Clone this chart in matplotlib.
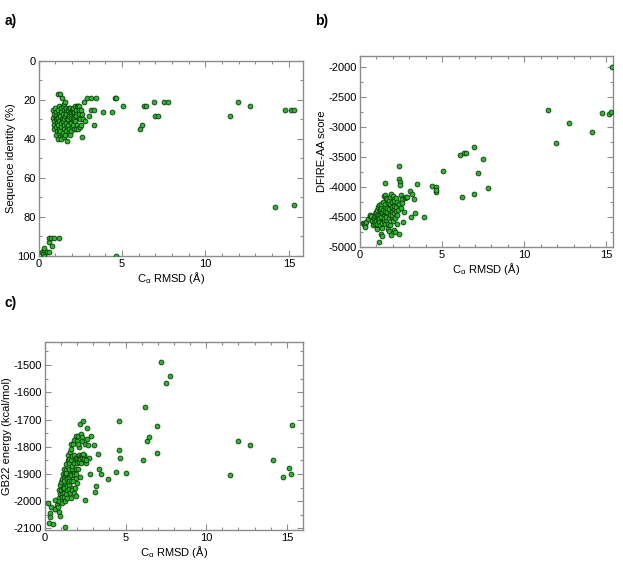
from matplotlib import pyplot as plt
from matplotlib.ticker import MultipleLocator

plt.rcParams['font.family'] = ['Liberation Sans', 'DejaVu Sans']
plt.rcParams['mathtext.fontset'] = 'custom'
plt.rcParams['mathtext.rm'] = 'Liberation Sans'
plt.rcParams['mathtext.it'] = 'Liberation Sans'
plt.rcParams['axes.unicode_minus'] = False


# C-alpha RMSD (A) of each model, shared by all three panels
rmsd = [
	# near native models
	0.20, 0.25, 0.30, 0.30, 0.35, 0.50, 0.60, 0.60, 0.65, 0.75, 0.80, 0.90, 1.25,
	# main cluster
	0.85, 0.88, 0.92, 0.90, 0.95, 0.95,
	1.00, 1.02, 1.05, 1.03, 1.08, 1.06, 1.10, 1.04, 1.10,
	1.15, 1.20, 1.18, 1.22, 1.17, 1.23, 1.19, 1.25, 1.20, 1.16,
	1.30, 1.32, 1.35, 1.28, 1.38, 1.33, 1.36, 1.30, 1.40, 1.34, 1.40,
	1.45, 1.50, 1.48, 1.52, 1.46, 1.55, 1.50, 1.47, 1.53, 1.50, 1.55,
	1.60, 1.62, 1.65, 1.60, 1.68, 1.63, 1.70, 1.66, 1.60, 1.70, 1.64,
	1.75, 1.80, 1.78, 1.82, 1.76, 1.85, 1.80, 1.83, 1.77, 1.85,
	1.90, 1.95, 1.92, 1.98, 1.93, 2.00, 1.95, 1.90, 2.00, 1.97,
	2.05, 2.10, 2.08, 2.12, 2.06, 2.15, 2.10, 2.13, 2.07,
	2.20, 2.25, 2.22, 2.28, 2.20, 2.30, 2.25, 2.30, 2.27,
	2.35, 2.40, 2.45, 2.45, 2.40, 2.50, 2.38, 2.50,
	2.60, 2.60, 2.65, 2.55, 2.72, 2.55,
	# outliers
	2.80, 2.88, 3.05, 3.12, 3.17, 3.30, 3.35, 3.47, 3.89,
	4.40, 4.60, 4.62, 4.65, 5.05,
	6.07, 6.19, 6.35, 6.45, 6.94, 6.96, 7.18, 7.50, 7.78,
	11.47, 11.96, 12.70, 14.15, 14.74, 15.14, 15.28, 15.32,
]

# sequence identity (%)
seq_identity = [
	98, 99, 100, 97, 96, 98, 98, 93, 91, 91, 95, 91, 91,
	25, 29, 31, 33, 35, 27,
	24, 26, 28, 30, 32, 34, 36, 38, 29,
	17, 23, 25, 27, 29, 31, 33, 35, 37, 40,
	17, 24, 26, 28, 30, 32, 34, 36, 38, 40, 19,
	23, 25, 27, 29, 31, 33, 35, 37, 39, 30, 22,
	21, 24, 26, 28, 30, 32, 34, 36, 38, 41, 27,
	25, 27, 29, 31, 33, 35, 37, 24, 30, 28,
	24, 26, 28, 30, 32, 34, 36, 38, 25, 29,
	25, 27, 29, 31, 33, 35, 26, 30, 24,
	23, 25, 27, 29, 31, 33, 35, 23, 28,
	23, 23, 25, 27, 29, 30, 35, 34,
	39, 27, 30, 33, 21, 25,
	31, 19, 28, 19, 25, 33, 25, 19, 26,
	26, 19, 19, 100, 23,
	35, 33, 23, 23, 21, 28, 28, 21, 21,
	28, 21, 23, 75, 25, 25, 74, 25,
]

# DFIRE-AA score
dfire = [
	-4600, -4620, -4640, -4660, -4580, -4530, -4480, -4470, -4490, -4560, -4630, -4450, -4560,
	-4520, -4580, -4490, -4610, -4450, -4560,
	-4420, -4500, -4650, -4380, -4540, -4700, -4460, -4610, -4330,
	-4300, -4480, -4590, -4400, -4520, -4640, -4360, -4790, -4470, -4920,
	-4350, -4450, -4680, -4280, -4520, -4410, -4600, -4500, -4380, -4820, -4250,
	-4150, -4420, -4560, -4330, -4480, -4620, -4400, -4510, -4290, -4130, -3930,
	-4180, -4380, -4470, -4550, -4260, -4420, -4620, -4350, -4500, -4700, -4200,
	-4230, -4400, -4740, -4300, -4520, -4460, -4640, -4160, -4360, -4280,
	-4120, -4380, -4500, -4250, -4420, -4560, -4330, -4800, -4150, -4460,
	-4200, -4360, -4710, -4280, -4430, -4750, -4320, -4520, -4240,
	-4180, -4300, -4400, -4620, -4330, -4260, -4470, -4380, -4250,
	-3650, -3860, -3920, -3960, -4790, -4130, -4280, -4350,
	-4580, -4180, -4410, -4200, -4180, -4270,
	-4160, -4170, -4070, -4500, -4120, -4200, -4430, -3950, -4500,
	-3990, -4000, -4090, -4050, -3730,
	-3470, -4170, -3440, -3430, -3340, -4110, -3770, -3530, -4010,
	-2710, -3260, -2940, -3090, -2760, -2790, -2750, -2000,
]

# GB22 energy (kcal/mol)
gb22 = [
	-2005, -2080, -2045, -2060, -2020, -2085, -2030, -1995, -2030, -2015, -2020, -2040, -2095,
	-1960, -1990, -1975, -2000, -1940, -2055,
	-1930, -1960, -1995, -1920, -1975, -2005, -1950, -1985, -1900,
	-1910, -1880, -1960, -1935, -1985, -1905, -1950, -2000, -1925, -1970,
	-1865, -1900, -1945, -1885, -1920, -1975, -1960, -1895, -1930, -1990, -1850,
	-1830, -1880, -1915, -1860, -1940, -1900, -1955, -1925, -1970, -1845, -1820,
	-1790, -1850, -1880, -1905, -1835, -1925, -1950, -1870, -1990, -1960, -1810,
	-1790, -1830, -1895, -1860, -1925, -1950, -1970, -1775, -1905, -1845,
	-1760, -1840, -1880, -1845, -1915, -1935, -1900, -1980, -1780, -1860,
	-1760, -1830, -1850, -1800, -1880, -1910, -1845, -1855, -1790,
	-1715, -1755, -1835, -1780, -1845, -1830, -1860, -1765, -1840,
	-1705, -1830, -1850, -1835, -1845, -1790, -1825, -1996,
	-1730, -1770, -1792, -1860, -1840, -1848,
	-1902, -1760, -1793, -1968, -1945, -1827, -1882, -1900, -1920,
	-1892, -1704, -1812, -1842, -1895,
	-1850, -1654, -1778, -1765, -1723, -1823, -1489, -1565, -1539,
	-1905, -1780, -1795, -1848, -1912, -1878, -1900, -1720,
]

xlabel = 'C$_{\\alpha}$ RMSD (\u00c5)'
fill = '#2fb52f'
edge = '#0a3a0a'
frame = '#8c8c8c'

ylist = {
	'Sequence identity (%)': seq_identity,
	'DFIRE-AA score': dfire,
	'GB22 energy (kcal/mol)': gb22,
}


def setup(ax, xmax, ymin, ymax, ymajor, yminor, ylabel):
	ax.scatter(rmsd, ylist[ylabel], s=12, c=fill, edgecolors=edge, linewidths=0.6, zorder=3)
	ax.set_xlim(0, xmax)
	ax.set_ylim(ymin, ymax)
	ax.xaxis.set_major_locator(MultipleLocator(5))
	ax.xaxis.set_minor_locator(MultipleLocator(1))
	ax.yaxis.set_major_locator(MultipleLocator(ymajor))
	ax.yaxis.set_minor_locator(MultipleLocator(yminor))
	ax.tick_params(which='both', direction='in', top=True, right=True, color=frame,
				   labelsize=8, pad=2)
	ax.tick_params(which='major', length=4, width=0.8)
	ax.tick_params(which='minor', length=2, width=0.8)
	for s in ax.spines.values():
		s.set_color(frame)
		s.set_linewidth(1.0)
	ax.set_xlabel(xlabel, fontsize=8, labelpad=1)
	ax.set_ylabel(ylabel, fontsize=8, labelpad=1)


fig = plt.figure(figsize=(6.23, 5.63), dpi=100)

ax1 = fig.add_axes([0.0618, 0.5453, 0.4246, 0.3464])
setup(ax1, 15.85, 100, 0, 20, 10, 'Sequence identity (%)')

ax2 = fig.add_axes([0.5778, 0.5613, 0.4061, 0.3392])
setup(ax2, 15.4, -5000, -1815, 500, 250, 'DFIRE-AA score')

ax3 = fig.add_axes([0.0722, 0.0586, 0.4141, 0.3345])
setup(ax3, 16, -2106, -1414, 100, 50, 'GB22 energy (kcal/mol)')

fig.text(0.008, 0.975, 'a)', fontsize=10, fontweight='bold', va='top')
fig.text(0.505, 0.975, 'b)', fontsize=10, fontweight='bold', va='top')
fig.text(0.008, 0.475, 'c)', fontsize=10, fontweight='bold', va='top')

fig.savefig('out.png', dpi=100)
